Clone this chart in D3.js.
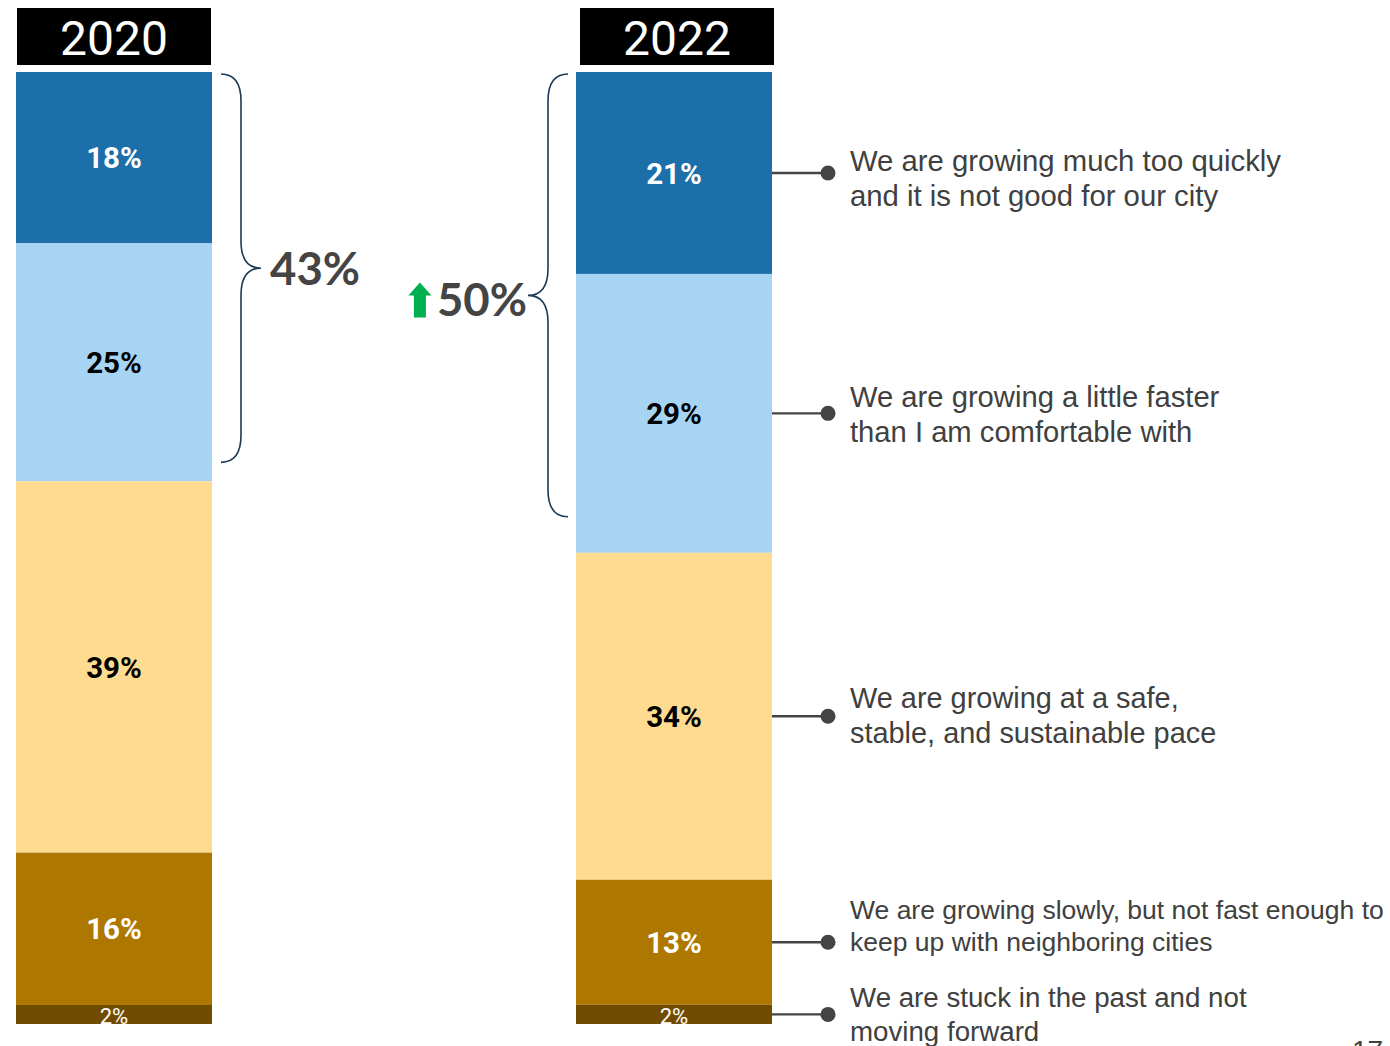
<!DOCTYPE html>
<html>
<head>
<meta charset="utf-8">
<script src="https://cdn.jsdelivr.net/npm/d3@7"></script>
<style>
  html, body { margin: 0; padding: 0; background: #fff; }
  svg { display: block; }
</style>
</head>
<body>
<svg id="chart" width="1390" height="1046"></svg>
<script>
// Survey years shown as two stacked columns
const years = ["2020", "2022"];

// Response categories, top of the stack first
const categories = [
  "We are growing much too quickly and it is not good for our city",
  "We are growing a little faster than I am comfortable with",
  "We are growing at a safe, stable, and sustainable pace",
  "We are growing slowly, but not fast enough to keep up with neighboring cities",
  "We are stuck in the past and not moving forward"
];

// Wrapped legend text for the right-hand callouts
const categoryLines = [
  ["We are growing much too quickly", "and it is not good for our city"],
  ["We are growing a little faster", "than I am comfortable with"],
  ["We are growing at a safe,", "stable, and sustainable pace"],
  ["We are growing slowly, but not fast enough to", "keep up with neighboring cities"],
  ["We are stuck in the past and not", "moving forward"]
];

// Share of respondents (%) per category
const values2020 = [18, 25, 39, 16, 2];
const values2022 = [21, 29, 34, 13, 2];

// Combined "growing too fast" share (first two categories)
const fastTotals = [43, 50];

const colors = ["#1c6fa8", "#a6d4f2", "#fedb8f", "#ae7700", "#714c00"];
const labelColors = ["#ffffff", "#000000", "#000000", "#ffffff", "#ffffff"];

const svg = d3.select("#chart");
const seriesByYear = [values2020, values2022];

const plotTop = 72, plotBottom = 1024;
const x = d3.scaleBand().domain(years).range([16, 772]).paddingInner(0.65).paddingOuter(0);
const bw = x.bandwidth();

// One y scale per column: each column fills the full height
const yScales = seriesByYear.map(vals =>
  d3.scaleLinear().domain([0, d3.sum(vals)]).range([plotTop, plotBottom])
);

const stacks = seriesByYear.map(vals => {
  let acc = 0;
  return vals.map((v, i) => {
    const s = { cat: i, v, y0: acc, y1: acc + v };
    acc += v;
    return s;
  });
});

years.forEach((yr, yi) => {
  const y = yScales[yi];
  const x0 = x(yr);
  const g = svg.append("g");

  // year header
  const hx = x0 + 1 + yi * 3;
  g.append("rect")
    .attr("x", hx).attr("y", 8)
    .attr("width", bw - 2).attr("height", 57)
    .attr("fill", "#000");
  g.append("text")
    .attr("x", hx + (bw - 2) / 2).attr("y", 55)
    .attr("text-anchor", "middle")
    .attr("font-family", "Roboto, 'Liberation Sans', sans-serif")
    .attr("font-size", 48)
    .attr("fill", "#fff")
    .text(yr);

  // stacked segments
  g.selectAll("rect.seg").data(stacks[yi]).join("rect")
    .attr("class", "seg")
    .attr("x", x0).attr("width", bw)
    .attr("y", d => y(d.y0))
    .attr("height", d => y(d.y1) - y(d.y0))
    .attr("fill", d => colors[d.cat]);

  // value labels
  g.selectAll("text.val").data(stacks[yi]).join("text")
    .attr("class", "val")
    .attr("x", x0 + bw / 2)
    .attr("y", d => d.v < 5 ? y(d.y1) : (y(d.y0) + y(d.y1)) / 2)
    .attr("dy", d => d.v < 5 ? "0" : "0.36em")
    .attr("text-anchor", "middle")
    .attr("font-family", "Roboto, 'Liberation Sans', sans-serif")
    .attr("font-weight", d => d.v < 5 ? 400 : 700)
    .attr("font-size", d => d.v < 5 ? 22 : 29.5)
    .attr("fill", d => labelColors[d.cat])
    .text(d => d.v + "%");
});

// curly brace path; dir = +1 points right, -1 points left
function bracePath(xe, y0, y1, dir) {
  const h = 20 * dir, r = 27;
  const ym = (y0 + y1) / 2;
  return `M${xe},${y0} Q${xe + h},${y0} ${xe + h},${y0 + r} L${xe + h},${ym - r}` +
         ` Q${xe + h},${ym} ${xe + 2 * h},${ym} Q${xe + h},${ym} ${xe + h},${ym + r}` +
         ` L${xe + h},${y1 - r} Q${xe + h},${y1} ${xe},${y1}`;
}

const braceStyle = p => p.attr("fill", "none").attr("stroke", "#1d3a57").attr("stroke-width", 1.6);

// 2020 brace on the right side of the column
const b0 = { x: x(years[0]) + bw + 9, y0: yScales[0](0) + 2, y1: yScales[0](fastTotals[0]) - 19 };
svg.append("path").attr("d", bracePath(b0.x, b0.y0, b0.y1, 1)).call(braceStyle);
svg.append("text")
  .attr("x", b0.x + 49).attr("y", (b0.y0 + b0.y1) / 2).attr("dy", "0.36em")
  .attr("font-family", "Lato, 'Open Sans', sans-serif")
  .attr("font-weight", 700)
  .attr("font-size", 45.5)
  .attr("fill", "#444")
  .text(fastTotals[0] + "%");

// 2022 brace on the left side of the column
const b1 = { x: x(years[1]) - 8, y0: yScales[1](0) + 2, y1: yScales[1](fastTotals[1]) - 36 };
svg.append("path").attr("d", bracePath(b1.x, b1.y0, b1.y1, -1)).call(braceStyle);
const lblY = (b1.y0 + b1.y1) / 2 + 4;
const t50 = svg.append("text")
  .attr("x", b1.x - 41).attr("y", lblY).attr("dy", "0.36em")
  .attr("text-anchor", "end")
  .attr("font-family", "Lato, 'Open Sans', sans-serif")
  .attr("font-weight", 700)
  .attr("font-size", 45.5)
  .attr("fill", "#444")
  .text(fastTotals[1] + "%");

// green up arrow in front of the 2022 total
const aw = t50.node().getComputedTextLength();
const ax = b1.x - 41 - aw - 17;
const aTop = lblY - 17, aBot = lblY + 18;
svg.append("path")
  .attr("d", `M${ax},${aTop} L${ax + 11.5},${aTop + 13} L${ax + 6},${aTop + 13} L${ax + 6},${aBot}` +
             ` L${ax - 6},${aBot} L${ax - 6},${aTop + 13} L${ax - 11.5},${aTop + 13} Z`)
  .attr("fill", "#00b050");

// callouts from the 2022 column
const textOffset = [-13, -17, -19, -33, -17];
const lineGap = [35, 35, 35, 32, 34];
const calloutSize = [29.3, 29.2, 28.9, 26.5, 27.7];
const yc = yScales[1];
const xRight = x(years[1]) + bw;
const callouts = svg.append("g");
stacks[1].forEach((d, i) => {
  const cy = (yc(d.y0) + yc(d.y1)) / 2;
  callouts.append("line")
    .attr("x1", xRight).attr("x2", xRight + 56)
    .attr("y1", cy).attr("y2", cy)
    .attr("stroke", "#444").attr("stroke-width", 2.4);
  callouts.append("circle")
    .attr("cx", xRight + 56).attr("cy", cy).attr("r", 7.5)
    .attr("fill", "#444");
  const t = callouts.append("text")
    .attr("font-family", "'Liberation Sans', Arial, sans-serif")
    .attr("font-size", calloutSize[i])
    .attr("fill", "#404040");
  categoryLines[i].forEach((line, li) => {
    t.append("tspan")
      .attr("x", xRight + 78)
      .attr("y", cy + textOffset[i] + li * lineGap[i])
      .attr("dy", "0.36em")
      .text(line);
  });
});

// page number
svg.append("text")
  .attr("x", 1352).attr("y", 1060)
  .attr("font-family", "'Liberation Sans', Arial, sans-serif")
  .attr("font-size", 28)
  .attr("fill", "#404040")
  .text("17");
</script>
</body>
</html>
